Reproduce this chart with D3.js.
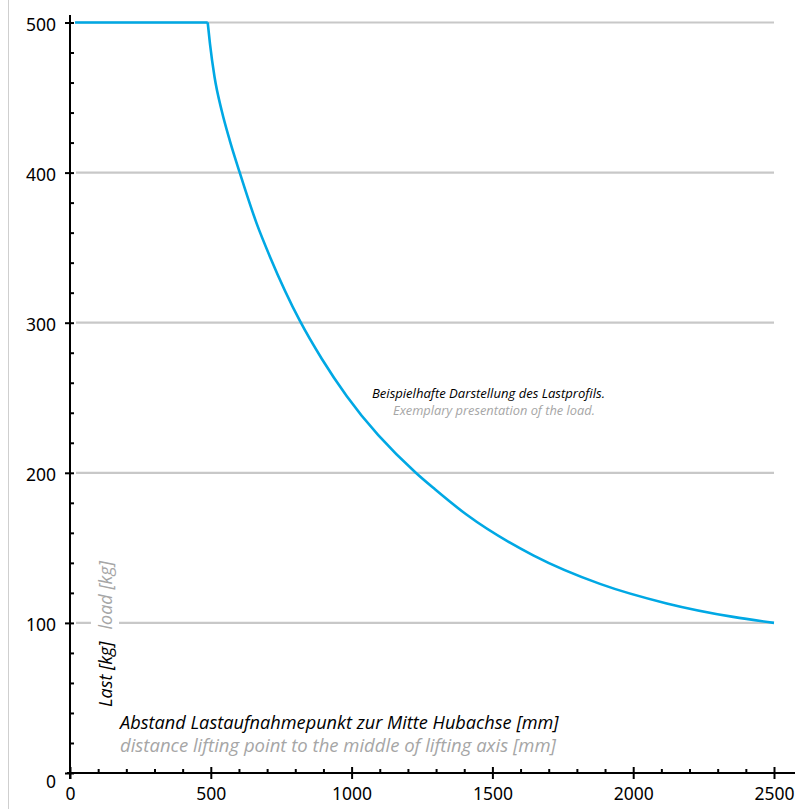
<!DOCTYPE html>
<html>
<head>
<meta charset="utf-8">
<script src="https://cdn.jsdelivr.net/npm/d3@7"></script>
<style>
  html, body { margin: 0; padding: 0; background: #fff; }
  svg { display: block; }
</style>
</head>
<body>
<svg id="chart" width="799" height="809"></svg>
<script>
// ---- data ----
const xMajorTicks = [0, 500, 1000, 1500, 2000, 2500];
const yMajorTicks = [0, 100, 200, 300, 400, 500];
const xMinorStep = 100;
const yMinorStep = 20;

// flat part of the load profile
const flatX = [0, 489];
const flatY = [500, 500];
// decreasing part of the load profile (distance mm, load kg)
const curveX = [489, 497, 513, 539, 568, 601, 663, 710, 817, 894, 983, 1228, 1296, 1409, 1645, 1882, 2119, 2355, 2500];
const curveY = [500, 486, 464, 441, 421, 401, 366, 344, 301, 276, 251, 200, 189, 172, 145, 126, 113, 104, 100];

const xTitleDe = "Abstand Lastaufnahmepunkt zur Mitte Hubachse [mm]";
const xTitleEn = "distance lifting point to the middle of lifting axis [mm]";
const yTitleDe = "Last [kg]";
const yTitleEn = "load [kg]";
const noteDe = "Beispielhafte Darstellung des Lastprofils.";
const noteEn = "Exemplary presentation of the load.";

// ---- layout ----
const svg = d3.select("#chart");
const x = d3.scaleLinear().domain([0, 2500]).range([70, 774]);
const y = d3.scaleLinear().domain([0, 500]).range([773, 22.5]);
const blue = "#00a8e4";
const grid = "#c8c8c8";
const grey = "#a6a6a6";
const tickFont = "'Noto Sans', 'Open Sans', sans-serif";
const labelFont = "'Open Sans', 'Noto Sans', sans-serif";

// left border line
svg.append("line").attr("x1", 8.5).attr("x2", 8.5).attr("y1", 0).attr("y2", 809)
  .attr("stroke", "#cfcfcf").attr("stroke-width", 1);

// gridlines
svg.append("g").selectAll("line").data(yMajorTicks.filter(d => d > 0)).join("line")
  .attr("x1", x(0) + 6).attr("x2", x(2500))
  .attr("y1", d => y(d)).attr("y2", d => y(d))
  .attr("stroke", grid).attr("stroke-width", 2.2);

// helper: fit text to a target width
function fit(sel, target) {
  const fs = parseFloat(sel.attr("font-size"));
  const w = sel.node().getComputedTextLength();
  if (w > 0) sel.attr("font-size", (fs * target / w).toFixed(2));
  return sel;
}

// y title (rotated), with white background
const yTitle = svg.append("g").attr("transform", `translate(112,707) rotate(-90)`);
const yBg = yTitle.append("rect").attr("fill", "#fff");
const yt = yTitle.append("text").attr("font-family", labelFont).attr("font-style", "italic")
  .attr("font-size", 16);
yt.append("tspan").attr("fill", "#000").text(yTitleDe);
yt.append("tspan").attr("fill", grey).attr("dx", 12).text(yTitleEn);
fit(yt, 134);
const bb = yt.node().getBBox();
yBg.attr("x", bb.x - 3).attr("y", bb.y - 2).attr("width", bb.width + 6).attr("height", bb.height + 4);

// axis titles
fit(svg.append("text").attr("x", 120).attr("y", 729)
  .attr("font-family", labelFont).attr("font-style", "italic").attr("font-size", 18)
  .attr("fill", "#000").text(xTitleDe), 439);
fit(svg.append("text").attr("x", 120).attr("y", 752)
  .attr("font-family", labelFont).attr("font-style", "italic").attr("font-size", 18)
  .attr("fill", grey).text(xTitleEn), 436);

// annotation
fit(svg.append("text").attr("x", 372).attr("y", 398)
  .attr("font-family", labelFont).attr("font-style", "italic").attr("font-size", 12)
  .attr("fill", "#000").text(noteDe), 233);
fit(svg.append("text").attr("x", 393).attr("y", 415)
  .attr("font-family", labelFont).attr("font-style", "italic").attr("font-size", 12)
  .attr("fill", grey).text(noteEn), 202);

// load profile lines
const clip = svg.append("clipPath").attr("id", "plotclip");
clip.append("rect").attr("x", x(0) + 5).attr("y", 0).attr("width", 799).attr("height", 809);

const plot = svg.append("g").attr("clip-path", "url(#plotclip)");
const flatData = flatX.map((d, i) => [d, flatY[i]]);
const curveData = curveX.map((d, i) => [d, curveY[i]]);

plot.append("path").datum(flatData)
  .attr("d", d3.line().x(d => x(d[0])).y(d => y(d[1])))
  .attr("fill", "none").attr("stroke", blue).attr("stroke-width", 2.6);
plot.append("path").datum(curveData)
  .attr("d", d3.line().x(d => x(d[0])).y(d => y(d[1])).curve(d3.curveMonotoneX))
  .attr("fill", "none").attr("stroke", blue).attr("stroke-width", 2.6);

// ---- axes ----
const xMinor = d3.range(0, 2501, xMinorStep).filter(d => !xMajorTicks.includes(d));
const yMinor = d3.range(0, 501, yMinorStep).filter(d => !yMajorTicks.includes(d));

// x minor ticks (above axis)
const gxm = svg.append("g").attr("transform", `translate(0,${y(0)})`)
  .call(d3.axisTop(x).tickValues(xMinor).tickSize(4).tickFormat(""));
gxm.select(".domain").remove();
gxm.selectAll("line").attr("stroke", "#000").attr("stroke-width", 2);

// x major ticks & labels
const gx = svg.append("g").attr("transform", `translate(0,${y(0)})`)
  .call(d3.axisBottom(x).tickValues(xMajorTicks).tickSize(6).tickPadding(12).tickFormat(d3.format("d")));
gx.select(".domain").remove();
gx.selectAll(".tick line").attr("y1", -6).attr("y2", 6).attr("stroke", "#000").attr("stroke-width", 2);
gx.selectAll(".tick text").attr("font-family", tickFont).attr("font-size", 17.5).attr("fill", "#000")
  .attr("dy", null).attr("y", 27);

// y minor ticks (right of axis)
const gym = svg.append("g").attr("transform", `translate(${x(0)},0)`)
  .call(d3.axisRight(y).tickValues(yMinor).tickSize(4).tickFormat(""));
gym.select(".domain").remove();
gym.selectAll("line").attr("stroke", "#000").attr("stroke-width", 2);

// y major ticks & labels
const gy = svg.append("g").attr("transform", `translate(${x(0)},0)`)
  .call(d3.axisLeft(y).tickValues(yMajorTicks).tickSize(5).tickFormat(d3.format("d")));
gy.select(".domain").remove();
gy.selectAll(".tick line").attr("x1", -5).attr("x2", 4).attr("stroke", "#000").attr("stroke-width", 2);
gy.selectAll(".tick text").attr("font-family", tickFont).attr("font-size", 17.5).attr("fill", "#000")
  .attr("x", -14).attr("dy", null).attr("y", d => d === 0 ? 14 : 7.5);

// axis lines
svg.append("line").attr("x1", x(0)).attr("x2", x(0)).attr("y1", 15).attr("y2", y(0) + 6)
  .attr("stroke", "#000").attr("stroke-width", 2);
svg.append("line").attr("x1", x(0) - 3).attr("x2", 795).attr("y1", y(0)).attr("y2", y(0))
  .attr("stroke", "#000").attr("stroke-width", 2.2);
</script>
</body>
</html>
